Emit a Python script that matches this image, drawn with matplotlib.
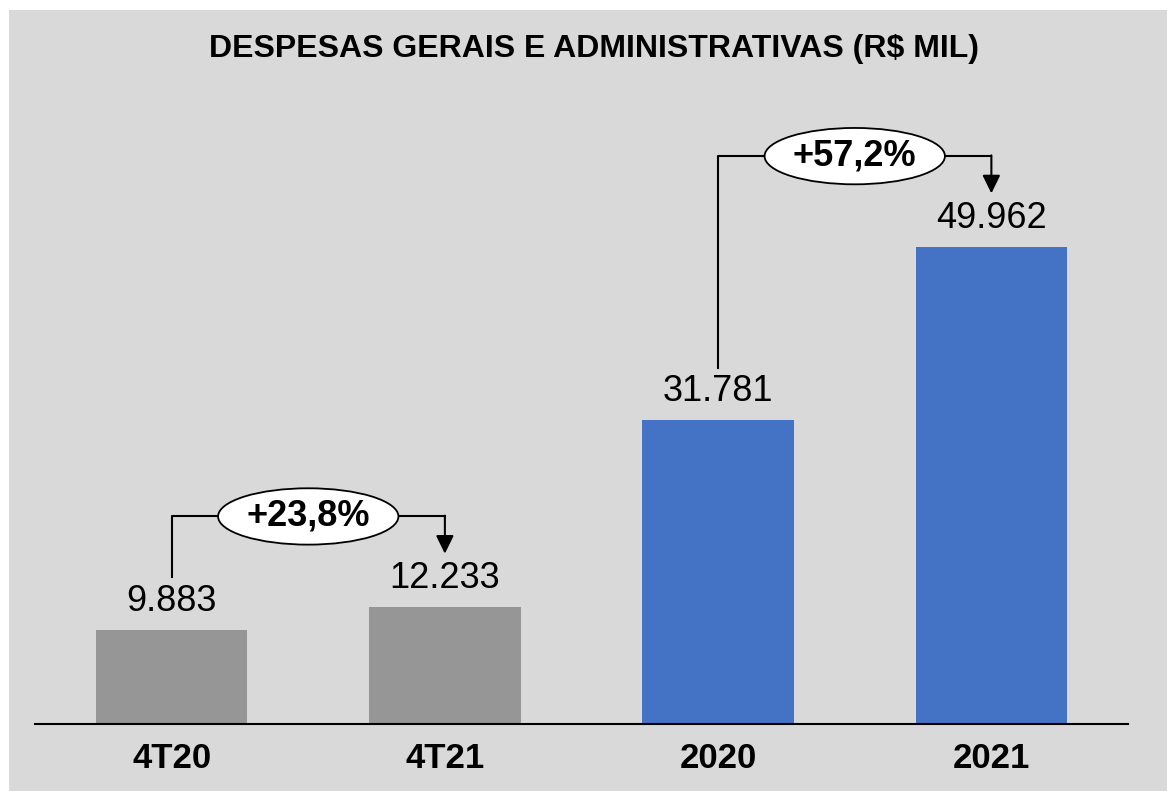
import matplotlib; matplotlib.use("Agg")
import matplotlib.pyplot as plt
from matplotlib.patches import Ellipse, Rectangle

categorias = ["4T20", "4T21", "2020", "2021"]
valores = [9.883, 12.233, 31.781, 49.962]
rotulos = ["9.883", "12.233", "31.781", "49.962"]
cores = ["#969696", "#969696", "#4472C4", "#4472C4"]
# comparações: (índice origem, índice destino, texto)
variacoes = [(0, 1, "+23,8%"), (2, 3, "+57,2%")]

plt.rcParams["font.family"] = ["Liberation Sans", "DejaVu Sans"]
W, H = 1167, 791
fig = plt.figure(figsize=(W / 100, H / 100), dpi=100, facecolor="white")
fig.patches.append(Rectangle((9 / W, 0), 1 - 9 / W, 1 - 10 / H, transform=fig.transFigure,
                             facecolor="#D9D9D9", edgecolor="none", zorder=-10))

ax_l, ax_r, ax_b = 35, 1128, 724
ymax = 60
px_por_un = 9.55
ax = fig.add_axes([ax_l / W, (H - ax_b) / H, (ax_r - ax_l) / W, ymax * px_por_un / H])
ax.set_facecolor("none")
x = range(len(categorias))
ax.bar(x, valores, width=0.555, color=cores, zorder=2)
ax.set_xlim(-0.5, 3.5); ax.set_ylim(0, ymax)
for s in ["top", "left", "right"]:
    ax.spines[s].set_visible(False)
ax.spines["bottom"].set_linewidth(1.5)
ax.spines["bottom"].set_zorder(3)
ax.set_yticks([])
ax.set_xticks(list(x))
ax.set_xticklabels(categorias, fontsize=25, fontweight="bold")
ax.tick_params(axis="x", length=0, pad=13)

for i, (v, r) in enumerate(zip(valores, rotulos)):
    ax.annotate(r, (i, v), xytext=(0, 8), textcoords="offset points",
                ha="center", va="bottom", fontsize=26)

for a, b, txt in variacoes:
    topo = max(valores[a], valores[b]) + 9.5
    ax.plot([a, a, b], [valores[a] + 5.5, topo, topo], color="black", lw=1.5,
            zorder=3, clip_on=False)
    ax.annotate("", xy=(b, valores[b] + 5.6), xytext=(b, topo + 0.08), annotation_clip=False,
                arrowprops=dict(arrowstyle="-|>,head_length=0.55,head_width=0.27",
                                mutation_scale=20, color="black", lw=1.5,
                                shrinkA=0, shrinkB=0), zorder=3)
    xm = (a + b) / 2
    ax.add_patch(Ellipse((xm, topo), 0.66, 5.9, facecolor="white", edgecolor="black",
                         lw=1.3, zorder=4, clip_on=False))
    ax.text(xm, topo, txt, ha="center", va="center", fontsize=26, fontweight="bold",
            zorder=5, clip_on=False)

fig.text(594 / W, 1 - 49 / H, "DESPESAS GERAIS E ADMINISTRATIVAS (R$ MIL)",
         ha="center", va="center", fontsize=23, fontweight="bold")

fig.savefig("out.png", dpi=100, facecolor=fig.get_facecolor())
